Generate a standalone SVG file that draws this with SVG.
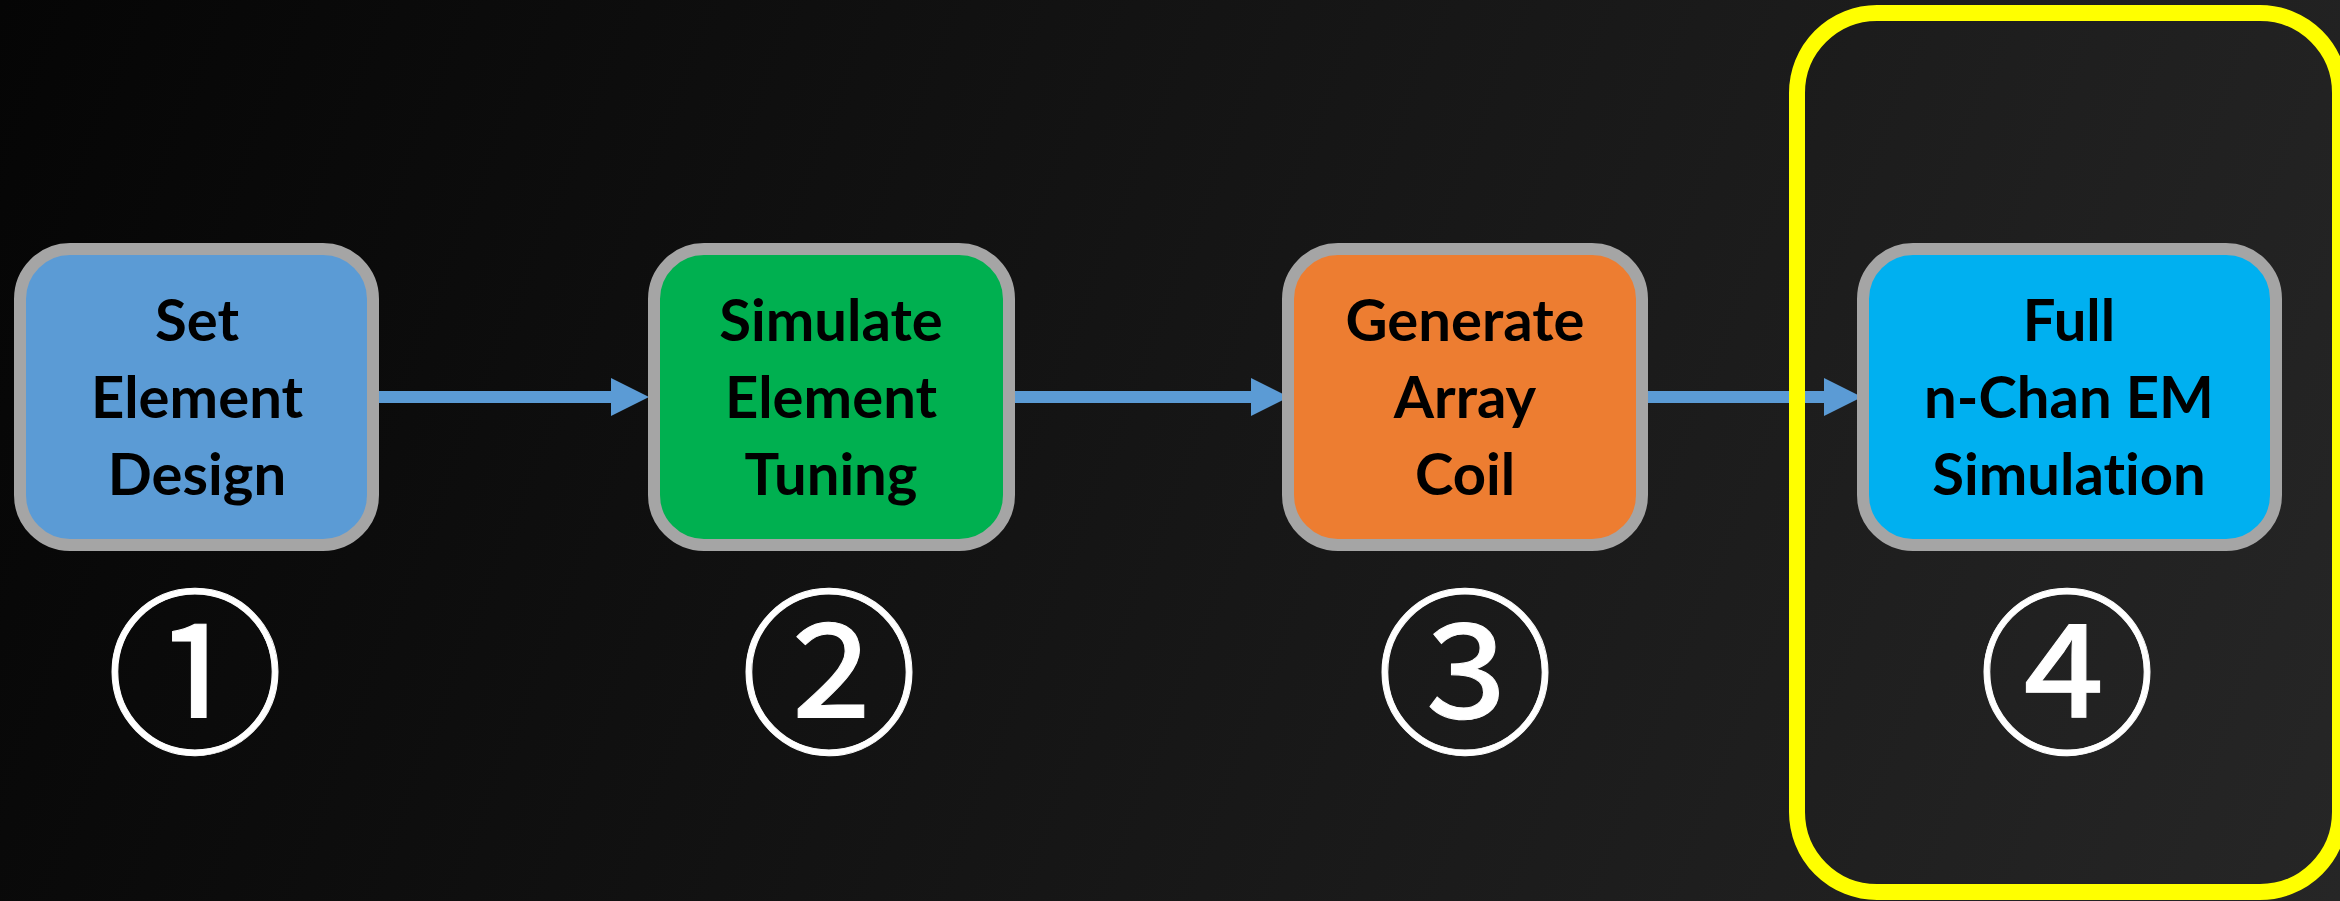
<svg xmlns="http://www.w3.org/2000/svg" width="2340" height="901" viewBox="0 0 2340 901">
<defs>
<linearGradient id="bg" gradientUnits="userSpaceOnUse" x1="0" y1="0" x2="2340" y2="901">
<stop offset="0" stop-color="#050505"/>
<stop offset="1" stop-color="#262626"/>
</linearGradient>
<marker id="ah" markerUnits="userSpaceOnUse" markerWidth="38" markerHeight="38" refX="0" refY="19" orient="auto" overflow="visible">
<path d="M0,0 L38,19 L0,38 Z" fill="#5B9BD5"/>
</marker>
<style>
.box{stroke:#A5A5A5;stroke-width:12}
.lbl{font-family:Lato,"Liberation Sans",sans-serif;font-weight:bold;font-size:58px;fill:#000;text-anchor:middle;font-variant-ligatures:none}
.num{font-family:"Liberation Serif","DejaVu Serif","Noto Sans CJK JP",serif;font-size:178px;fill:#fff;stroke:#fff;stroke-width:1;text-anchor:middle}
.con{stroke:#5B9BD5;stroke-width:12;fill:none;marker-end:url(#ah)}
</style>
</defs>
<rect width="2340" height="901" fill="url(#bg)"/>
<g id="connectors">
<line class="con" x1="374" y1="397" x2="611" y2="397"/>
<line class="con" x1="1009" y1="397" x2="1251" y2="397"/>
<line class="con" x1="1642" y1="397" x2="1824" y2="397"/>
</g>
<g id="highlight">
<rect x="1797" y="13" width="543" height="879" rx="80" ry="80" fill="none" stroke="#FFFF00" stroke-width="16"/>
</g>
<g id="node1">
<rect class="box" x="20" y="249" width="353" height="296" rx="50" fill="#5B9BD5"/>
<text class="lbl" x="197" y="341">Set</text>
<text class="lbl" x="197" y="418">Element</text>
<text class="lbl" x="197" y="495">Design</text>
<text class="num" x="195" y="740">①</text>
</g>
<g id="node2">
<rect class="box" x="654" y="249" width="355" height="296" rx="50" fill="#00B050"/>
<text class="lbl" x="831" y="341">Simulate</text>
<text class="lbl" x="831" y="418">Element</text>
<text class="lbl" x="831" y="495">Tuning</text>
<text class="num" x="829" y="740">②</text>
</g>
<g id="node3">
<rect class="box" x="1288" y="249" width="354" height="296" rx="50" fill="#ED7D31"/>
<text class="lbl" x="1465" y="341">Generate</text>
<text class="lbl" x="1465" y="418">Array</text>
<text class="lbl" x="1465" y="495">Coil</text>
<text class="num" x="1465" y="740">③</text>
</g>
<g id="node4">
<rect class="box" x="1863" y="249" width="413" height="296" rx="50" fill="#00B0F0"/>
<text class="lbl" x="2069" y="341">Full</text>
<text class="lbl" x="2069" y="418">n-Chan EM</text>
<text class="lbl" x="2069" y="495">Simulation</text>
<text class="num" x="2067" y="740">④</text>
</g>
</svg>
